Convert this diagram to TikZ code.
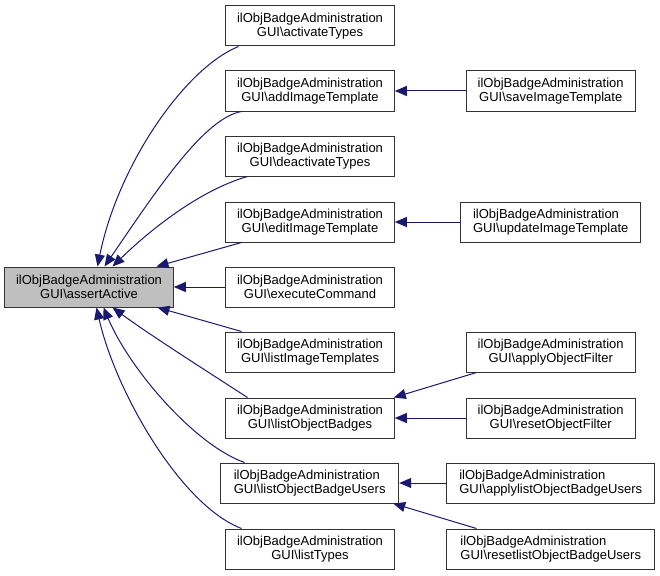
\documentclass[tikz,border=0pt]{standalone}
\usepackage{fontspec}
\setmainfont{Liberation Sans}
\usetikzlibrary{arrows.meta,calc}
\definecolor{edgeblue}{HTML}{191970}
\definecolor{rootgray}{HTML}{BFBFBF}
\definecolor{boxline}{HTML}{333333}
\tikzset{
  fn/.style={draw=boxline, line width=1pt, fill=white, minimum height=40pt, inner sep=0pt,
    align=center, font=\fontsize{13}{14.7}\selectfont},
  fnl/.style={fn, align=left},
  rootbox/.style={fn, fill=rootgray},
  edge/.style={draw=edgeblue, line width=1pt, -{Triangle[length=12pt,width=10pt]}},
}
\newcommand{\bs}{\textbackslash}
\begin{document}
\begin{tikzpicture}[x=1pt,y=-1pt]
\useasboundingbox (0,0) rectangle (660,575);
% root
\node[rootbox, minimum width=168.6pt] (root) at (89,287) {ilObjBadgeAdministration\\GUI\bs assertActive};
% middle column
\node[fn, minimum width=168.6pt] (act) at (310,26) {ilObjBadgeAdministration\\GUI\bs activateTypes};
\node[fn, minimum width=168.6pt] (add) at (310,91) {ilObjBadgeAdministration\\GUI\bs addImageTemplate};
\node[fn, minimum width=168.6pt] (deact) at (310,156) {ilObjBadgeAdministration\\GUI\bs deactivateTypes};
\node[fn, minimum width=168.6pt] (edit) at (310,222) {ilObjBadgeAdministration\\GUI\bs editImageTemplate};
\node[fn, minimum width=168.6pt] (exec) at (310,287) {ilObjBadgeAdministration\\GUI\bs executeCommand};
\node[fn, minimum width=168.6pt] (limg) at (310,352) {ilObjBadgeAdministration\\GUI\bs listImageTemplates};
\node[fn, minimum width=168.6pt] (lob) at (310,418) {ilObjBadgeAdministration\\GUI\bs listObjectBadges};
\node[fnl, minimum width=178pt] (lobu) at (309.7,483) {ilObjBadgeAdministration\\GUI\bs listObjectBadgeUsers};
\node[fn, minimum width=168.6pt] (ltyp) at (310,549) {ilObjBadgeAdministration\\GUI\bs listTypes};
% right column
\node[fn, minimum width=169.3pt] (save) at (550.7,91) {ilObjBadgeAdministration\\GUI\bs saveImageTemplate};
\node[fnl, minimum width=180pt] (upd) at (550.7,222) {ilObjBadgeAdministration\\GUI\bs updateImageTemplate};
\node[fn, minimum width=169.3pt] (aof) at (550.7,352) {ilObjBadgeAdministration\\GUI\bs applyObjectFilter};
\node[fn, minimum width=169.3pt] (rof) at (550.7,418) {ilObjBadgeAdministration\\GUI\bs resetObjectFilter};
\node[fnl, minimum width=208pt] (alobu) at (550.7,483) {ilObjBadgeAdministration\\GUI\bs applylistObjectBadgeUsers};
\node[fnl, minimum width=208pt] (rlobu) at (550.7,549) {ilObjBadgeAdministration\\GUI\bs resetlistObjectBadgeUsers};
% edges to root (upper)
\draw[edge] ($(act.south west)+(13.3,0)$) .. controls (185,68) and (118,165) .. ($(root.north west)+(93.3,0)$);
\draw[edge] ($(add.south west)+(16.3,0)$) .. controls (205,118) and (160,185) .. ($(root.north west)+(100.3,0)$);
\draw[edge] ($(deact.south west)+(22.3,0)$) .. controls (200,190) and (150,230) .. ($(root.north west)+(108.3,0)$);
\draw[edge] ($(edit.south west)+(16.3,0)$) -- ($(root.north west)+(152.3,0)$);
\draw[edge] (exec.west) -- (root.east);
% edges to root (lower)
\draw[edge] ($(limg.north west)+(16.3,0)$) -- ($(root.south west)+(153.3,0)$);
\draw[edge] ($(lob.north west)+(22.3,0)$) .. controls (205,370) and (150,335) .. ($(root.south west)+(108.3,0)$);
\draw[edge] ($(lobu.north west)+(24.3,0)$) .. controls (195,445) and (130,370) .. ($(root.south west)+(99.3,0)$);
\draw[edge] ($(ltyp.north west)+(16.3,0)$) .. controls (180,505) and (115,390) .. ($(root.south west)+(92.3,0)$);
% right edges
\draw[edge] (save.west) -- (add.east);
\draw[edge] (upd.west) -- (edit.east);
\draw[edge] ($(aof.south west)+(11,0)$) -- ($(lob.north east)+(-1,0)$);
\draw[edge] (rof.west) -- (lob.east);
\draw[edge] (alobu.west) -- (lobu.east);
\draw[edge] ($(rlobu.north west)+(30.3,0)$) -- ($(lobu.south east)+(-6,0)$);
\end{tikzpicture}
\end{document}
